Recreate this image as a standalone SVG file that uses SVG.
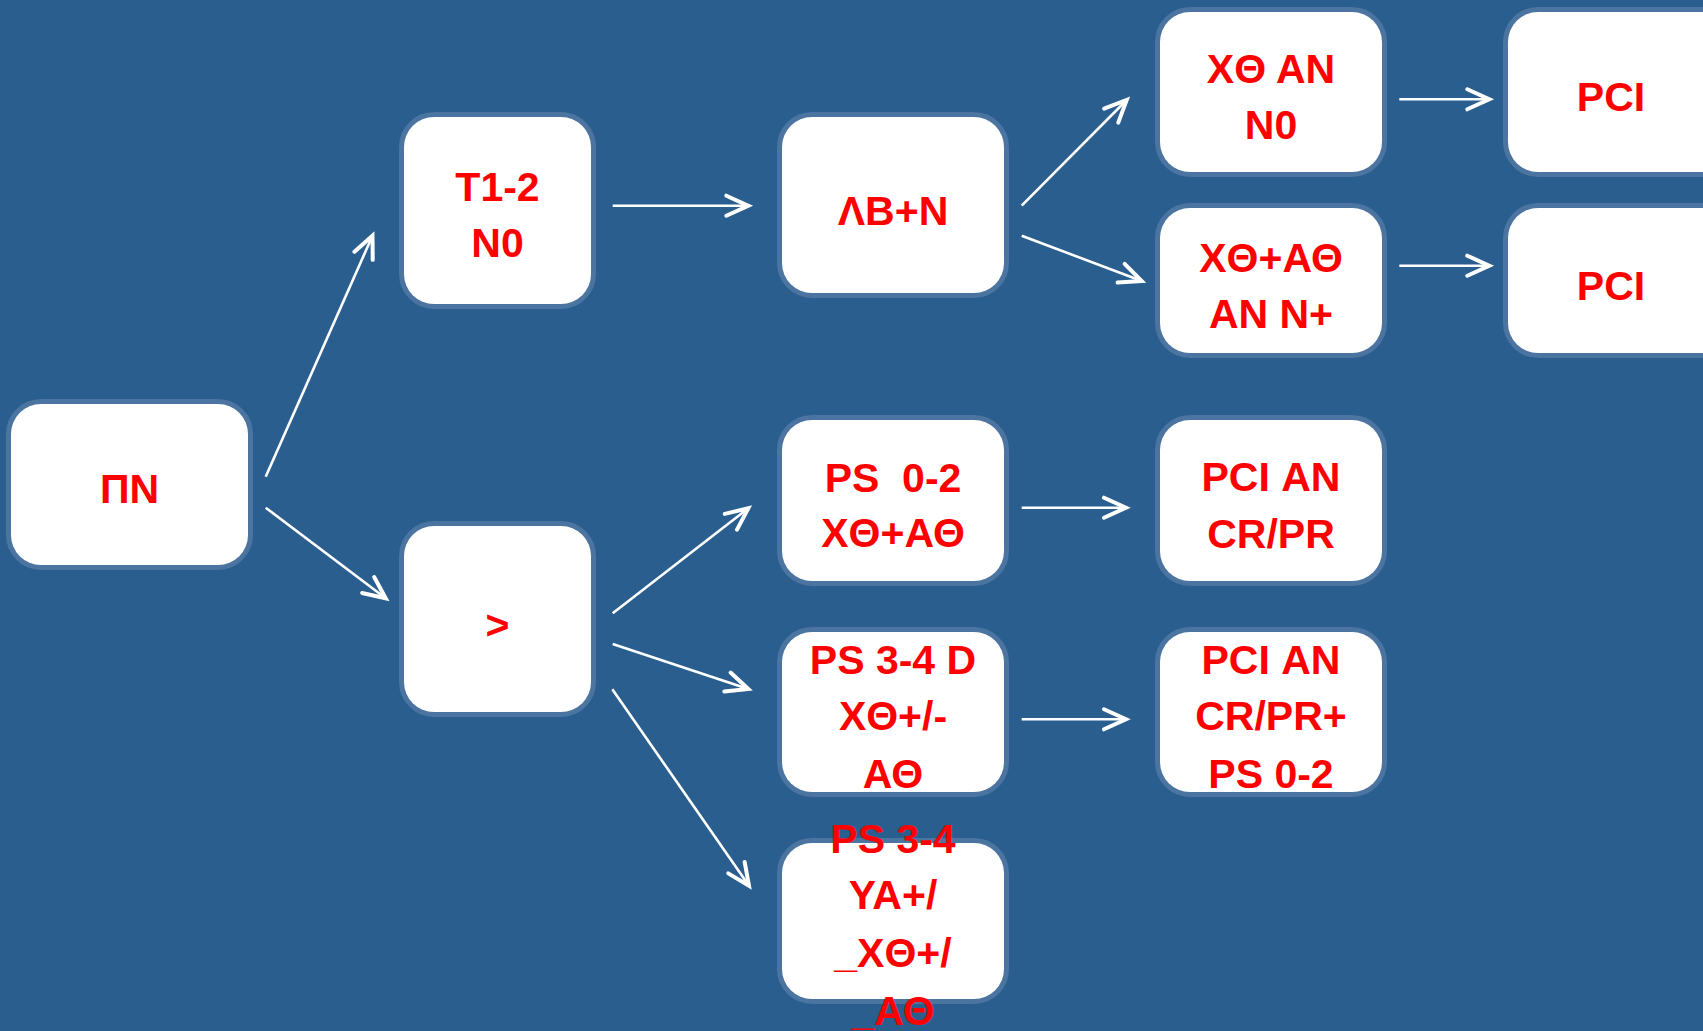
<svg xmlns="http://www.w3.org/2000/svg" width="1703" height="1031" viewBox="0 0 1703 1031">
  <defs>
    <style>
      .box { fill: #ffffff; stroke: #4b74a0; stroke-width: 10; paint-order: stroke; }
      .lbl { font-family: "Liberation Sans", Arial, sans-serif; font-weight: bold; font-size: 41px; fill: #ff0000; text-anchor: middle; }
      .link { stroke: #ffffff; stroke-width: 2.6; fill: none; marker-end: url(#head); }
    </style>
    <marker id="head" markerUnits="userSpaceOnUse" viewBox="-26 -14 30 28" refX="0" refY="0" markerWidth="30" markerHeight="28" orient="auto" overflow="visible">
      <path d="M -22 -10 L 0 0 L -22 10" fill="none" stroke="#ffffff" stroke-width="4" stroke-linecap="round" stroke-linejoin="miter"/>
    </marker>
  </defs>

  <rect x="0" y="0" width="1703" height="1031" fill="#295e8f"/>

  <!-- connectors -->
  <g id="connectors">
    <line class="link" x1="265.7" y1="476.7" x2="372.5" y2="235.7"/>
    <line class="link" x1="265.7" y1="507.7" x2="385.7" y2="598.3"/>
    <line class="link" x1="612.7" y1="205.7" x2="748.3" y2="205.7"/>
    <line class="link" x1="1021.7" y1="205.7" x2="1126.7" y2="100"/>
    <line class="link" x1="1021.7" y1="235.7" x2="1141.7" y2="281"/>
    <line class="link" x1="1399.3" y1="99.3" x2="1489.3" y2="99.3"/>
    <line class="link" x1="1399.3" y1="265.7" x2="1489.3" y2="265.7"/>
    <line class="link" x1="612.7" y1="613.3" x2="748.3" y2="508.3"/>
    <line class="link" x1="612.7" y1="644" x2="748.3" y2="689"/>
    <line class="link" x1="612.3" y1="689.3" x2="749" y2="885.7"/>
    <line class="link" x1="1021.7" y1="507.7" x2="1126" y2="507.7"/>
    <line class="link" x1="1021.7" y1="719.3" x2="1126" y2="719.3"/>
  </g>

  <!-- nodes -->
  <g id="node-pn">
    <rect class="box" x="11" y="404" width="237" height="161" rx="30"/>
    <text class="lbl" x="129.5" y="503">ΠΝ</text>
  </g>
  <g id="node-t12">
    <rect class="box" x="404" y="117" width="187" height="187" rx="30"/>
    <text class="lbl" x="497.5" y="201">T1-2</text>
    <text class="lbl" x="497.5" y="257">N0</text>
  </g>
  <g id="node-gt">
    <rect class="box" x="404" y="526" width="187" height="186" rx="30"/>
    <text class="lbl" x="497.5" y="639">&gt;</text>
  </g>
  <g id="node-lbn">
    <rect class="box" x="782" y="117" width="222" height="176" rx="30"/>
    <text class="lbl" x="893" y="225">ΛΒ+Ν</text>
  </g>
  <g id="node-ps02">
    <rect class="box" x="782" y="420" width="222" height="161" rx="30"/>
    <text class="lbl" x="893" y="491.7" xml:space="preserve">PS  0-2</text>
    <text class="lbl" x="893" y="546.7">ΧΘ+ΑΘ</text>
  </g>
  <g id="node-ps34d">
    <rect class="box" x="782" y="632" width="222" height="160" rx="30"/>
    <text class="lbl" x="893" y="674.3">PS 3-4 D</text>
    <text class="lbl" x="893" y="730">ΧΘ+/-</text>
    <text class="lbl" x="893" y="787.7">ΑΘ</text>
  </g>
  <g id="node-ps34ya">
    <rect class="box" x="782" y="843" width="222" height="156" rx="30"/>
    <text class="lbl" x="893" y="853.3">PS 3-4</text>
    <text class="lbl" x="893" y="909.3">ΥΑ+/</text>
    <text class="lbl" x="893" y="967.3">_ΧΘ+/</text>
    <text class="lbl" x="893" y="1025">_ΑΘ</text>
  </g>
  <g id="node-xth-an-n0">
    <rect class="box" x="1160" y="12" width="222" height="160" rx="30"/>
    <text class="lbl" x="1271" y="82.7">ΧΘ ΑΝ</text>
    <text class="lbl" x="1271" y="139.3">N0</text>
  </g>
  <g id="node-xth-ath-npos">
    <rect class="box" x="1160" y="208" width="222" height="145" rx="30"/>
    <text class="lbl" x="1271" y="271.7">ΧΘ+ΑΘ</text>
    <text class="lbl" x="1271" y="328.3">ΑΝ N+</text>
  </g>
  <g id="node-pci-1">
    <rect class="box" x="1508" y="12" width="230" height="160" rx="30"/>
    <text class="lbl" x="1611" y="111">PCI</text>
  </g>
  <g id="node-pci-2">
    <rect class="box" x="1508" y="208" width="230" height="145" rx="30"/>
    <text class="lbl" x="1611" y="300">PCI</text>
  </g>
  <g id="node-pci-crpr">
    <rect class="box" x="1160" y="420" width="222" height="161" rx="30"/>
    <text class="lbl" x="1271" y="491">PCI ΑΝ</text>
    <text class="lbl" x="1271" y="547.7">CR/PR</text>
  </g>
  <g id="node-pci-crpr-ps02">
    <rect class="box" x="1160" y="632" width="222" height="160" rx="30"/>
    <text class="lbl" x="1271" y="674">PCI ΑΝ</text>
    <text class="lbl" x="1271" y="730">CR/PR+</text>
    <text class="lbl" x="1271" y="788.3">PS 0-2</text>
  </g>
</svg>
